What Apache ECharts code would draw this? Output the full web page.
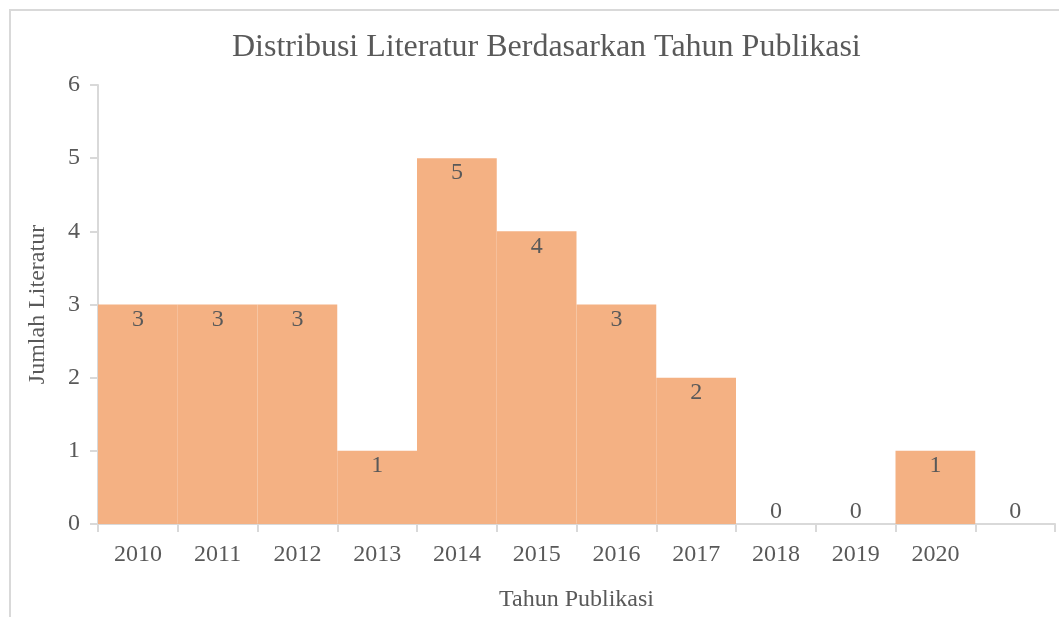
<!DOCTYPE html>
<html>
<head>
<meta charset="utf-8">
<script src="https://cdn.jsdelivr.net/npm/echarts@6/dist/echarts.min.js"></script>
<style>
  html, body { margin: 0; padding: 0; background: #fff; }
  #chart { width: 1059px; height: 617px; }
</style>
</head>
<body>
<div id="chart"></div>
<script>
// data
var tahun = ['2010', '2011', '2012', '2013', '2014', '2015', '2016', '2017', '2018', '2019', '2020', '']
var jumlah = [3, 3, 3, 1, 5, 4, 3, 2, 0, 0, 1, 0]
var yTicks = [0, 1, 2, 3, 4, 5, 6]

var font = '"Liberation Serif", "Times New Roman", serif'
var textColor = '#595959'
var lineColor = '#d9d9d9'
var barColor = '#F4B183'

var chart = echarts.init(document.getElementById('chart'))

var seriesData = jumlah.map(function (v) {
  if (v === 0) {
    // zero bars: label sits just above the axis
    return { value: v, label: { position: 'top', distance: 0 } }
  }
  return v
})

var option = {
  backgroundColor: '#fff',
  animation: false,
  graphic: [
    {
      type: 'rect',
      shape: { x: 10, y: 10, width: 1200, height: 800 },
      style: { fill: 'none', stroke: lineColor, lineWidth: 2 },
      silent: true
    }
  ],
  title: {
    text: 'Distribusi Literatur Berdasarkan Tahun Publikasi',
    left: 227,
    top: 27,
    textStyle: {
      fontFamily: font,
      fontWeight: 'normal',
      fontSize: 32,
      color: textColor
    }
  },
  grid: {
    left: 98,
    right: 4,
    top: 85,
    bottom: 89,
    containLabel: false
  },
  xAxis: {
    type: 'category',
    data: tahun,
    name: 'Tahun Publikasi',
    nameLocation: 'middle',
    nameGap: 64,
    nameTextStyle: { fontFamily: font, fontSize: 24, color: textColor },
    axisLine: { lineStyle: { color: lineColor, width: 2 } },
    axisTick: { show: true, length: 8, lineStyle: { color: lineColor, width: 2 } },
    axisLabel: { fontFamily: font, fontSize: 24, color: textColor, margin: 19 },
    splitLine: { show: false }
  },
  yAxis: {
    type: 'value',
    min: yTicks[0],
    max: yTicks[yTicks.length - 1],
    interval: 1,
    name: 'Jumlah Literatur',
    nameLocation: 'middle',
    nameGap: 48,
    nameTextStyle: { fontFamily: font, fontSize: 24, color: textColor },
    axisLine: { show: true, lineStyle: { color: lineColor, width: 2 } },
    axisTick: { show: true, length: 8, lineStyle: { color: lineColor, width: 2 } },
    axisLabel: { fontFamily: font, fontSize: 24, color: textColor, margin: 18 },
    splitLine: { show: false }
  },
  series: [
    {
      type: 'bar',
      data: seriesData,
      barCategoryGap: 0,
      barGap: 0,
      itemStyle: { color: barColor },
      label: {
        show: true,
        position: 'insideTop',
        distance: 3,
        fontFamily: font,
        fontSize: 24,
        color: textColor
      }
    }
  ]
}

chart.setOption(option)
</script>
</body>
</html>
